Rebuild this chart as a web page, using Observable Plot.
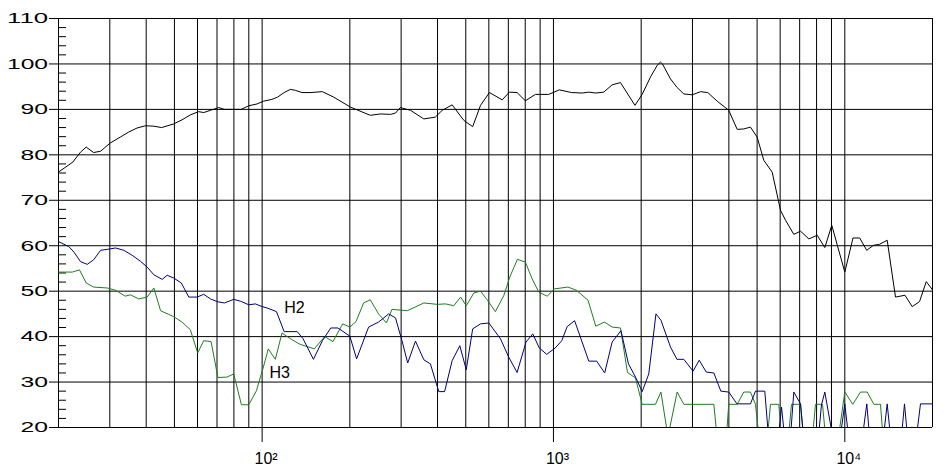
<!DOCTYPE html>
<html>
<head>
<meta charset="utf-8">
<script src="https://cdn.jsdelivr.net/npm/d3@7"></script>
<script src="https://cdn.jsdelivr.net/npm/@observablehq/plot@0.6"></script>
<style>
  html, body { margin: 0; padding: 0; background: #fff; }
  #chart { width: 945px; height: 474px; }
</style>
</head>
<body>
<div id="chart"></div>
<script>
// ---- Data (frequency in Hz, level in dB) ----
const mainFreq = [20,22.4,23.8,24.9,26.4,27.9,30.1,32.6,34.8,37.2,
  39.8,42.5,45.2,49.7,53.1,56.7,60.6,63.0,66.5,71.0,
  74.2,79.9,84.7,90.0,96.1,101,108,113,119,125,
  130,137,146,161,176,201,235,255,276,287,
  298,323,359,393,415,449,492,528,562,603,
  667,706,750,801,867,963,1048,1153,1255,1322,
  1394,1488,1590,1698,1904,2016,2152,2270,2330,2366,
  2522,2658,2802,2994,3196,3386,3648,3996,4272,4500,
  4744,5002,5272,5632,6016,6260,6684,7048,7524,8042,
  8538,9022,10000,10670,11250,11890,12550,13150,13980,14930,
  16090,17030,18050,19040,20000];
const mainDb = [76.2,78.4,80.6,81.7,80.5,80.8,82.6,83.9,85.0,85.9,
  86.4,86.3,86.0,86.8,87.7,88.8,89.5,89.3,89.8,90.4,
  90.0,90.0,90.0,90.8,91.2,91.8,92.2,92.7,93.7,94.4,
  94.2,93.7,93.7,93.9,92.7,90.5,88.7,89.0,88.9,89.2,
  90.4,89.8,87.9,88.3,89.8,91.0,87.6,86.2,90.9,93.7,
  92.1,93.8,93.7,91.9,93.3,93.3,94.3,93.7,93.6,93.8,
  93.6,93.8,95.4,95.9,90.9,93.3,97.1,99.7,100.4,100.0,
  96.7,94.8,93.4,93.2,93.9,93.7,91.8,89.8,85.6,85.7,
  86.1,83.9,78.8,76.2,67.8,65.6,62.5,63.2,61.5,62.3,
  59.6,64.5,54.2,61.7,61.7,59.0,60.1,60.3,61.2,48.7,
  49.1,46.6,47.7,52.1,50.3];

const h2Freq = [20,21.7,22.6,23.8,25.1,26.4,27.9,29.4,31.4,33.5,
  35.8,38.2,40.3,42.5,45.4,47.2,49.7,52.8,56.0,59.8,
  63.0,66.5,70.1,74.2,79.9,84.2,90.0,94.8,100,104,
  112,119,132,138,150,161,172,182,200,211,
  232,251,272,287,302,316,336,359,378,404,
  423,449,477,502,528,562,600,658,702,750,
  805,849,894,948,1014,1068,1114,1182,1243,1322,
  1407,1499,1590,1705,1809,1912,2016,2124,2248,2338,
  2522,2654,2802,3014,3164,3346,3552,3754,3996,4266,
  4744,4936,5314,5470,5922,6064,6210,6510,6684,7048,
  7214,8122,8318,8538,9086,9650,10000,10300,11500,11900,
  12160,13580,13980,14350,15650,16030,16410,17620,18190,20000];
const h2Db = [60.9,59.8,58.6,56.5,55.9,56.9,59.0,59.2,59.5,59.0,
  57.9,56.6,55.3,53.6,52.6,53.5,52.9,51.8,48.7,48.7,
  49.3,48.3,47.7,47.4,48.2,47.8,47.0,47.2,46.6,46.3,
  45.5,41.1,41.1,39.6,35.0,39.1,41.9,41.9,40.1,35.1,
  42.1,43.2,45.0,44.1,39.1,34.2,39.0,34.9,34.0,27.9,
  27.9,34.7,38.0,32.7,41.7,42.8,43.0,39.5,35.5,32.1,
  38.8,40.6,37.5,36.1,37.5,39.1,42.2,43.5,39.5,34.6,
  34.6,32.0,38.8,41.3,34.0,31.1,27.9,31.8,45.0,43.6,
  37.7,35.0,35.0,32.4,34.8,32.2,32.0,28.0,27.8,25.2,
  25.2,28.0,28.0,18,18,24.5,18,18,27.8,25.2,
  18,18,25.0,27.8,18,18,25.2,18,18,25.2,
  18,18,25.2,18,18,25.2,18,18,25.2,25.2];

const h3Freq = [20,22.3,23.6,24.9,26.4,29.4,31.4,33.9,35.3,37.7,
  40.3,42.5,44.8,49.7,53.1,56.7,60.1,63.0,66.8,70.5,
  75.8,79.9,84.9,90.0,95.6,101,105,111,117,126,
  135,151,164,175,189,200,210,223,235,251,
  267,279,315,359,399,426,455,480,502,533,
  562,592,632,675,708,752,801,845,890,951,
  1008,1121,1199,1314,1397,1496,1590,1698,1795,1912,
  2016,2239,2338,2472,2658,2802,3552,3642,3924,3996,
  4272,4500,4744,4936,5074,5428,5558,5936,6064,6408,
  6562,7048,7214,7746,7932,8386,8586,9516,10000,10650,
  11320,11940,12580,13260,13520,20000];
const h3Db = [54.2,54.2,54.7,51.8,50.9,50.7,50.2,48.9,49.2,48.3,
  48.7,50.7,45.7,44.4,43.2,41.5,36.4,39.1,38.9,31.0,
  31.1,31.8,25.0,25.0,28.1,33.3,37.3,35.0,40.8,39.4,
  38.3,37.3,40.0,38.9,42.8,42.1,43.3,47.4,48.1,45.0,
  43.0,46.0,45.7,47.4,47.1,47.2,46.8,48.7,46.8,49.6,
  50.0,48.1,45.5,49.0,53.1,57.0,56.4,52.7,49.8,48.9,
  50.5,50.9,50.2,48.0,42.3,43.2,42.1,41.9,32.1,30.9,
  25.1,25.1,27.8,18,27.8,25.1,25.1,18,18,25.1,
  25.1,27.8,27.8,25.1,18,18,25.1,25.1,18,18,
  25.1,25.1,18,18,25.1,25.1,18,18,27.8,25.1,
  27.8,27.8,25.1,25.1,18,18];

// Axes / grid
const xGrid = [20,30,40,50,60,70,80,90,100,200,300,400,500,600,700,800,900,
  1000,2000,3000,4000,5000,6000,7000,8000,9000,10000,20000];
const xTickValues = [100, 1000, 10000];
const xTickLabels = ["10²", "10³", "10⁴"];
const yTickValues = [20,30,40,50,60,70,80,90,100,110];
const yMinor = [22,24,26,28,32,34,36,38,42,44,46,48,52,54,56,58,62,64,66,68,
  72,74,76,78,82,84,86,88,92,94,96,98,102,104,106,108];

// Curve labels
const labelText = ["H2", "H3"];
const labelFreq = [119, 106];
const labelDb = [46.3, 32.1];

const toRows = (f, d) => f.map((x, i) => ({f: x, db: d[i]}));
const mainRows = toRows(mainFreq, mainDb);
const h2Rows = toRows(h2Freq, h2Db);
const h3Rows = toRows(h3Freq, h3Db);
const labelRows = labelText.map((t, i) => ({t, f: labelFreq[i], db: labelDb[i]}));

const chart = Plot.plot({
  width: 945,
  height: 474,
  marginLeft: 58,
  marginRight: 13,
  marginTop: 18,
  marginBottom: 47,
  style: {background: "#fff", color: "#000", fontFamily: "'Liberation Sans', Arial, sans-serif", fontSize: "15px"},
  x: {type: "log", domain: [20, 20000], ticks: xTickValues,
      tickFormat: d => xTickLabels[xTickValues.indexOf(d)], tickSize: 15, tickPadding: 10, label: null},
  y: {domain: [20, 110], ticks: yTickValues, tickSize: 9, tickPadding: 1.5, label: null},
  marks: [
    Plot.ruleY(yTickValues, {stroke: "#000"}),
    Plot.ruleY(yMinor, {stroke: "#000", insetRight: 866}),
    Plot.ruleX(xGrid, {stroke: "#000"}),
    Plot.line(h3Rows, {x: "f", y: "db", stroke: "#1f7d1f", strokeWidth: 1, clip: true}),
    Plot.line(h2Rows, {x: "f", y: "db", stroke: "#00007a", strokeWidth: 1, clip: true}),
    Plot.line(mainRows, {x: "f", y: "db", stroke: "#000", strokeWidth: 1, clip: true}),
    Plot.text(labelRows, {x: "f", y: "db", text: "t", textAnchor: "start", fontSize: 16, fill: "#000"})
  ]
});

document.getElementById("chart").appendChild(chart);

// Typographic tweaks to match the reference's wide y labels
d3.select(chart).selectAll('g[aria-label^="y-axis"] text').each(function() {
  const s = this.textContent;
  d3.select(this).attr("textLength", s.length === 3 ? 41 : 27.5).attr("lengthAdjust", "spacingAndGlyphs");
});
d3.select(chart).selectAll('g[aria-label^="x-axis"] text').attr("font-size", 16).attr("dx", 4);
</script>
</body>
</html>
